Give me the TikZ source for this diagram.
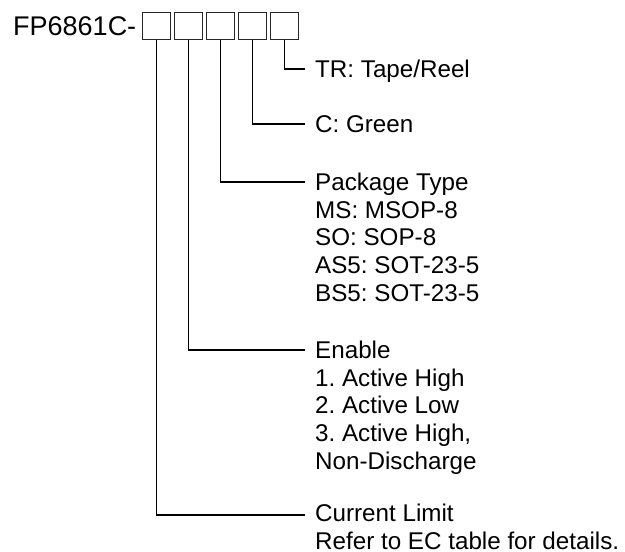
\documentclass[tikz,border=0pt]{standalone}
\usepackage{fontspec}
\setmainfont{Liberation Sans}
\begin{document}
\begin{tikzpicture}[x=1pt,y=-1pt]
	\useasboundingbox (0,0) rectangle (625,552);
	\tikzset{pinbox/.style={draw=black!85,line width=0.9pt,minimum width=28pt,minimum height=27pt,inner sep=0pt,anchor=north west}, %code fields
		lead/.style={line width=1.5pt}, %leader lines
		desc/.style={anchor=base west,inner sep=0pt,align=left,font=\fontsize{24.2}{27.6}\selectfont\frenchspacing}}
	\node[anchor=base west,inner sep=0pt,font=\fontsize{27}{30}\selectfont] (pn) at (13,35) {FP6861C-};
	\foreach \i in {1,...,5}
		\node[pinbox] (b\i) at ({142+32*(\i-1)},12) {};
	\coordinate (e5) at (305,69); % ends of the leader lines
	\coordinate (e4) at (305,124);
	\coordinate (e3) at (305,182);
	\coordinate (e2) at (305,350);
	\coordinate (e1) at (305,515);
	% base of a node is its last line, so shift by the lines below the first
	\node[desc] (tr) at ([shift={(10,8.6)}]e5) {TR: Tape/Reel};
	\node[desc] (green) at ([shift={(10,8.6)}]e4) {C: Green};
	\node[desc] (pkg) at ([shift={(10,8.6+4*27.6)}]e3) {Package Type\\MS: MSOP-8\\SO: SOP-8\\AS5: SOT-23-5\\BS5: SOT-23-5};
	\node[desc] (enable) at ([shift={(10,8.6+4*27.6)}]e2) {Enable\\1. Active High\\2. Active Low\\3. Active High,\\Non-Discharge};
	\node[desc] (climit) at ([shift={(10,8.6+25.6)}]e1) {Current Limit\\Refer to EC table for details.};
	\draw[lead] (b5.south) |- (e5);
	\draw[lead] (b4.south) |- (e4);
	\draw[lead] (b3.south) |- (e3);
	\draw[lead] (b2.south) |- (e2);
	\draw[lead] (b1.south) |- (e1);
\end{tikzpicture}
\end{document}
